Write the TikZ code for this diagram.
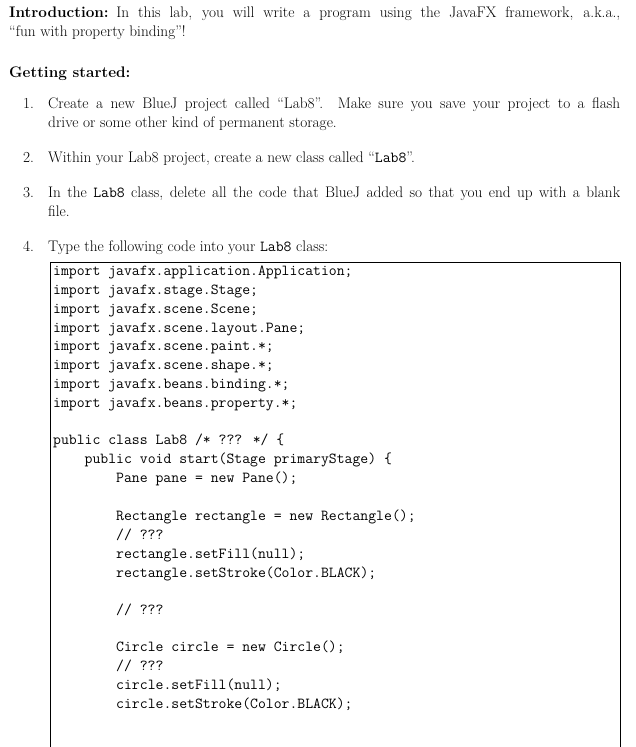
\documentclass[tikz,border=0pt]{standalone}
\begin{document}
\begin{tikzpicture}[x=1pt,y=-1pt,
  txt/.style={anchor=base west,inner sep=0pt,font=\fontsize{15.3}{18}\selectfont},
  code/.style={anchor=base west,inner sep=0pt,font=\fontsize{15.3}{18}\selectfont\ttfamily}]
\useasboundingbox (0,0) rectangle (635,747);
\node[txt] (i1) at (9,17) {\makebox[611pt][s]{\textbf{Introduction:}\enspace In this lab, you will write a program using the JavaFX framework, a.k.a.,}};
\node[txt] (i2) at (9,36) {``fun with property binding''!};
\node[txt] (gs) at (9,77) {\textbf{Getting started:}};
\node[txt] (n1) at (23,108) {1.};
\node[txt] (t1) at (48,108) {\makebox[572pt][s]{Create a new BlueJ project called ``Lab8''. Make sure you save your project to a flash}};
\node[txt] (t1b) at (48,127) {drive or some other kind of permanent storage.};
\node[txt] (n2) at (23,162) {2.};
\node[txt] (t2) at (48,162) {Within your Lab8 project, create a new class called ``\texttt{Lab8}''.};
\node[txt] (n3) at (23,197) {3.};
\node[txt] (t3) at (48,197) {\makebox[572pt][s]{In the \texttt{Lab8} class, delete all the code that BlueJ added so that you end up with a blank}};
\node[txt] (t3b) at (48,216) {file.};
\node[txt] (n4) at (23,251) {4.};
\node[txt] (t4) at (48,251) {Type the following code into your \texttt{Lab8} class:};
\draw[line width=0.8pt] (50,747) -- (50,262) -- (620,262) -- (620,747);
\foreach \y/\s in {275/{import javafx.application.Application;},
  294/{import javafx.stage.Stage;},
  313/{import javafx.scene.Scene;},
  332/{import javafx.scene.layout.Pane;},
  350/{import javafx.scene.paint.*;},
  369/{import javafx.scene.shape.*;},
  388/{import javafx.beans.binding.*;},
  407/{import javafx.beans.property.*;},
  444/{public class Lab8 /* ??? */ \{},
  463/{\ \ \ \ public void start(Stage primaryStage) \{},
  482/{\ \ \ \ \ \ \ \ Pane pane = new Pane();},
  520/{\ \ \ \ \ \ \ \ Rectangle rectangle = new Rectangle();},
  539/{\ \ \ \ \ \ \ \ // ???},
  558/{\ \ \ \ \ \ \ \ rectangle.setFill(null);},
  577/{\ \ \ \ \ \ \ \ rectangle.setStroke(Color.BLACK);},
  614/{\ \ \ \ \ \ \ \ // ???},
  651/{\ \ \ \ \ \ \ \ Circle circle = new Circle();},
  670/{\ \ \ \ \ \ \ \ // ???},
  689/{\ \ \ \ \ \ \ \ circle.setFill(null);},
  708/{\ \ \ \ \ \ \ \ circle.setStroke(Color.BLACK);}}
  \node[code] at (53,\y) {\s};
\end{tikzpicture}
\end{document}
